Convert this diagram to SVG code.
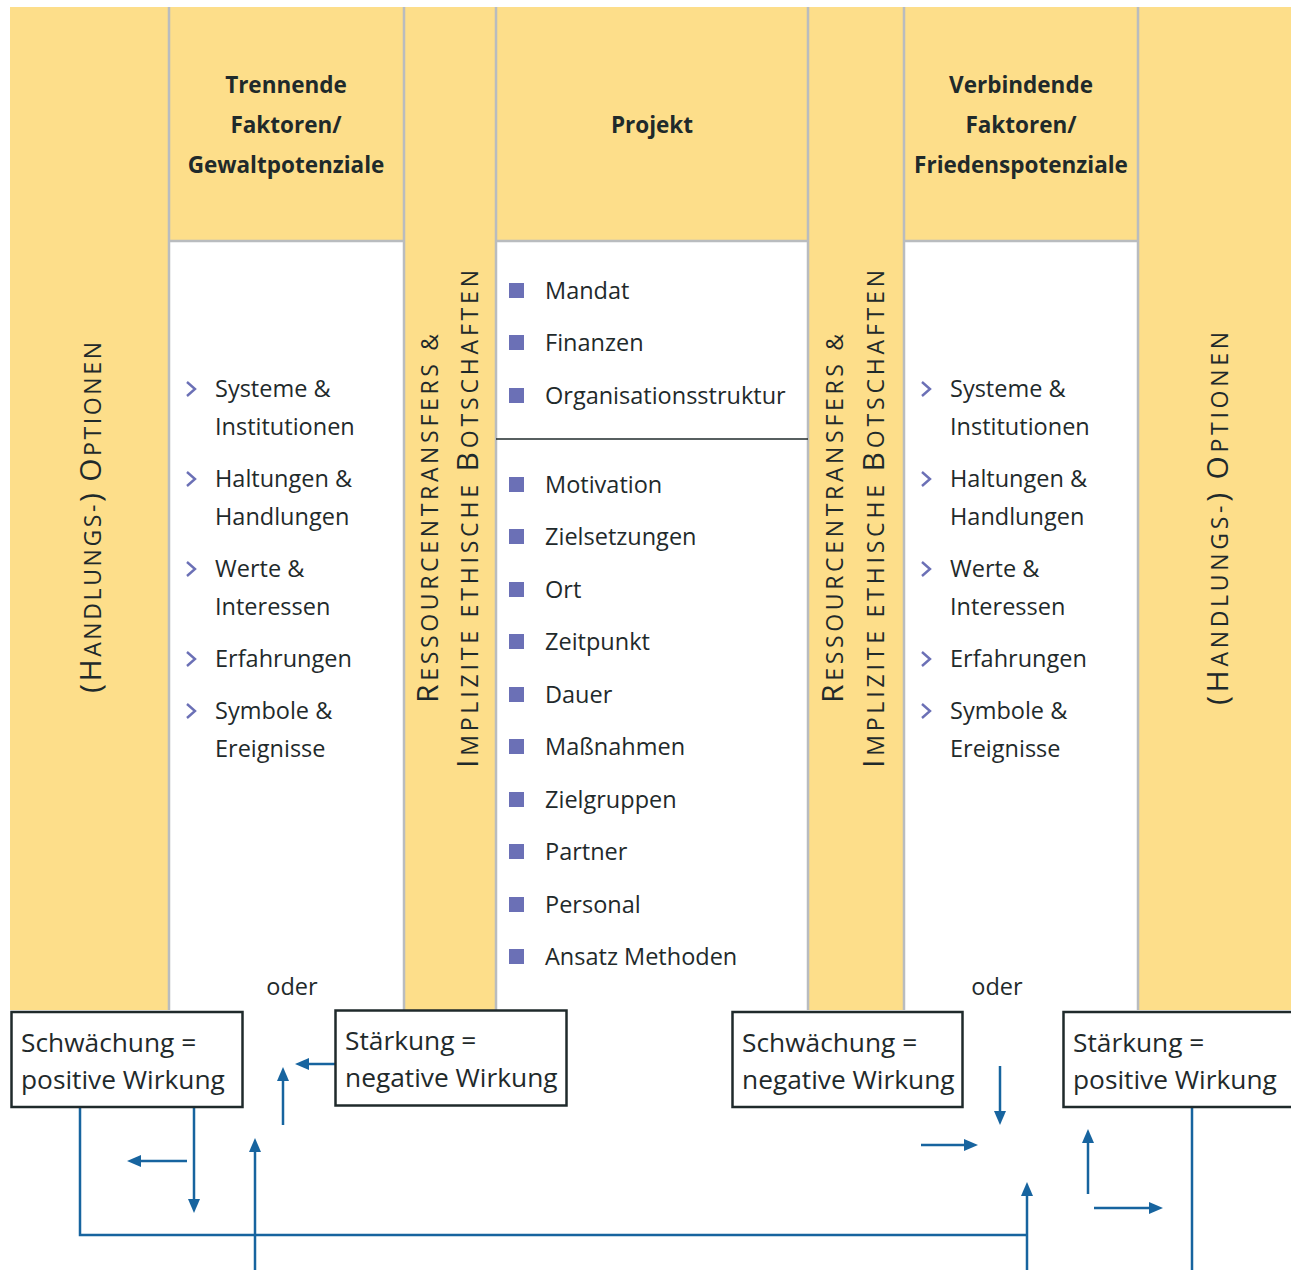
<svg xmlns="http://www.w3.org/2000/svg" width="1291" height="1270" viewBox="0 0 1291 1270">
<defs>
<style>
.t{font-family:"Open Sans","Noto Sans","Liberation Sans",sans-serif;fill:#1f2a2b}
.h{font-size:22.5px;font-weight:bold;text-anchor:middle}
.li{font-size:23.5px}
.bx{font-size:26.3px}
.v{font-size:23px;letter-spacing:2px}
.cap{font-size:30px}
.sq{fill:#6b70b6}
.chev{fill:none;stroke:#6b70b6;stroke-width:2.4;stroke-linejoin:miter}
.grid{stroke:#b9bcbf;stroke-width:2.5;fill:none}
.box{fill:#fff;stroke:#1f2a2b;stroke-width:2.5}
.ar{fill:none;stroke:#17649f;stroke-width:2.5}
</style>
<marker id="ah" viewBox="0 0 14 12" refX="4" refY="6" markerWidth="14" markerHeight="12" markerUnits="userSpaceOnUse" orient="auto">
<path d="M0,0 L14,6 L0,12 z" fill="#17649f"/>
</marker>
</defs>
<rect width="1291" height="1270" fill="#fff"/>
<g id="background">
<rect x="10" y="7" width="1281" height="1003" fill="#fdde8a"/>
<rect x="170" y="242" width="234" height="768" fill="#fff"/>
<rect x="497" y="242" width="311" height="768" fill="#fff"/>
<rect x="905" y="242" width="233" height="768" fill="#fff"/>
<path class="grid" d="M169,7V1010 M404,7V1010 M496,7V1010 M808,7V1010 M904,7V1010 M1138,7V1010 M169,241H404 M496,241H808 M904,241H1138"/>
</g>
<g id="col-optionen-left">
<text class="t v" transform="translate(101,516.5) rotate(-90)" text-anchor="middle" textLength="353" lengthAdjust="spacing"><tspan class="cap">(H</tspan>ANDLUNGS-<tspan class="cap">)</tspan> <tspan class="cap">O</tspan>PTIONEN</text>
</g>
<g id="col-trennende">
<text class="t h" x="286" y="93">Trennende</text>
<text class="t h" x="286" y="133">Faktoren/</text>
<text class="t h" x="286" y="173">Gewaltpotenziale</text>
<path class="chev" d="M187,382 L195,389 L187,396 M187,472 L195,479 L187,486 M187,562 L195,569 L187,576 M187,652 L195,659 L187,666 M187,704 L195,711 L187,718"/>
<text class="t li" x="215" y="397">Systeme &amp;</text>
<text class="t li" x="215" y="435">Institutionen</text>
<text class="t li" x="215" y="487">Haltungen &amp;</text>
<text class="t li" x="215" y="525">Handlungen</text>
<text class="t li" x="215" y="577">Werte &amp;</text>
<text class="t li" x="215" y="615">Interessen</text>
<text class="t li" x="215" y="667">Erfahrungen</text>
<text class="t li" x="215" y="719">Symbole &amp;</text>
<text class="t li" x="215" y="757">Ereignisse</text>
</g>
<g id="col-ressourcen-left">
<text class="t v" transform="translate(438,517.5) rotate(-90)" text-anchor="middle" textLength="371" lengthAdjust="spacing"><tspan class="cap">R</tspan>ESSOURCENTRANSFERS &amp;</text>
<text class="t v" transform="translate(478,518) rotate(-90)" text-anchor="middle" textLength="500" lengthAdjust="spacing"><tspan class="cap">I</tspan>MPLIZITE ETHISCHE <tspan class="cap">B</tspan>OTSCHAFTEN</text>
</g>
<g id="col-projekt">
<text class="t h" x="652" y="133">Projekt</text>
<line x1="496" y1="439" x2="808" y2="439" stroke="#1f2a2b" stroke-width="1.5"/>
<rect class="sq" x="509" y="283" width="15" height="15"/>
<rect class="sq" x="509" y="335" width="15" height="15"/>
<rect class="sq" x="509" y="388" width="15" height="15"/>
<rect class="sq" x="509" y="477" width="15" height="15"/>
<rect class="sq" x="509" y="529" width="15" height="15"/>
<rect class="sq" x="509" y="582" width="15" height="15"/>
<rect class="sq" x="509" y="634" width="15" height="15"/>
<rect class="sq" x="509" y="687" width="15" height="15"/>
<rect class="sq" x="509" y="739" width="15" height="15"/>
<rect class="sq" x="509" y="792" width="15" height="15"/>
<rect class="sq" x="509" y="844" width="15" height="15"/>
<rect class="sq" x="509" y="897" width="15" height="15"/>
<rect class="sq" x="509" y="949" width="15" height="15"/>
<text class="t li" x="545" y="299">Mandat</text>
<text class="t li" x="545" y="351">Finanzen</text>
<text class="t li" x="545" y="404">Organisationsstruktur</text>
<text class="t li" x="545" y="493">Motivation</text>
<text class="t li" x="545" y="545">Zielsetzungen</text>
<text class="t li" x="545" y="598">Ort</text>
<text class="t li" x="545" y="650">Zeitpunkt</text>
<text class="t li" x="545" y="703">Dauer</text>
<text class="t li" x="545" y="755">Maßnahmen</text>
<text class="t li" x="545" y="808">Zielgruppen</text>
<text class="t li" x="545" y="860">Partner</text>
<text class="t li" x="545" y="913">Personal</text>
<text class="t li" x="545" y="965">Ansatz Methoden</text>
</g>
<g id="col-ressourcen-right">
<text class="t v" transform="translate(843,517.5) rotate(-90)" text-anchor="middle" textLength="371" lengthAdjust="spacing"><tspan class="cap">R</tspan>ESSOURCENTRANSFERS &amp;</text>
<text class="t v" transform="translate(884,518) rotate(-90)" text-anchor="middle" textLength="500" lengthAdjust="spacing"><tspan class="cap">I</tspan>MPLIZITE ETHISCHE <tspan class="cap">B</tspan>OTSCHAFTEN</text>
</g>
<g id="col-verbindende">
<text class="t h" x="1021" y="93">Verbindende</text>
<text class="t h" x="1021" y="133">Faktoren/</text>
<text class="t h" x="1021" y="173">Friedenspotenziale</text>
<path class="chev" d="M922,382 L930,389 L922,396 M922,472 L930,479 L922,486 M922,562 L930,569 L922,576 M922,652 L930,659 L922,666 M922,704 L930,711 L922,718"/>
<text class="t li" x="950" y="397">Systeme &amp;</text>
<text class="t li" x="950" y="435">Institutionen</text>
<text class="t li" x="950" y="487">Haltungen &amp;</text>
<text class="t li" x="950" y="525">Handlungen</text>
<text class="t li" x="950" y="577">Werte &amp;</text>
<text class="t li" x="950" y="615">Interessen</text>
<text class="t li" x="950" y="667">Erfahrungen</text>
<text class="t li" x="950" y="719">Symbole &amp;</text>
<text class="t li" x="950" y="757">Ereignisse</text>
</g>
<g id="col-optionen-right">
<text class="t v" transform="translate(1228,517.5) rotate(-90)" text-anchor="middle" textLength="375" lengthAdjust="spacing"><tspan class="cap">(H</tspan>ANDLUNGS-<tspan class="cap">)</tspan> <tspan class="cap">O</tspan>PTIONEN</text>
</g>
<g id="oder-left"><text class="t li" x="292" y="995" text-anchor="middle">oder</text></g>
<g id="oder-right"><text class="t li" x="997" y="995" text-anchor="middle">oder</text></g>
<g id="connectors">
<path class="ar" d="M80,1107 V1235 H1027"/>
<path class="ar" d="M1192,1107 V1270"/>
<path class="ar" marker-end="url(#ah)" d="M194,1107 V1203"/>
<path class="ar" marker-end="url(#ah)" d="M187,1161 H137"/>
<path class="ar" marker-end="url(#ah)" d="M255,1270 V1148"/>
<path class="ar" marker-end="url(#ah)" d="M283,1125 V1077"/>
<path class="ar" marker-end="url(#ah)" d="M335,1064 H305"/>
<path class="ar" marker-end="url(#ah)" d="M1027,1270 V1192"/>
<path class="ar" marker-end="url(#ah)" d="M1000,1066 V1115"/>
<path class="ar" marker-end="url(#ah)" d="M921,1145 H968"/>
<path class="ar" marker-end="url(#ah)" d="M1088,1194 V1139"/>
<path class="ar" marker-end="url(#ah)" d="M1094,1208 H1153"/>
</g>
<g id="box-schwaechung-positiv">
<rect class="box" x="11.5" y="1012" width="231" height="95"/>
<text class="t bx" x="21" y="1052">Schwächung =</text>
<text class="t bx" x="21" y="1089">positive Wirkung</text>
</g>
<g id="box-staerkung-negativ">
<rect class="box" x="335.5" y="1010.5" width="231" height="95"/>
<text class="t bx" x="345" y="1050">Stärkung =</text>
<text class="t bx" x="345" y="1087">negative Wirkung</text>
</g>
<g id="box-schwaechung-negativ">
<rect class="box" x="732.5" y="1012" width="230" height="95"/>
<text class="t bx" x="742" y="1052">Schwächung =</text>
<text class="t bx" x="742" y="1089">negative Wirkung</text>
</g>
<g id="box-staerkung-positiv">
<rect class="box" x="1063.5" y="1012" width="240" height="95"/>
<text class="t bx" x="1073" y="1052">Stärkung =</text>
<text class="t bx" x="1073" y="1089">positive Wirkung</text>
</g>
</svg>
